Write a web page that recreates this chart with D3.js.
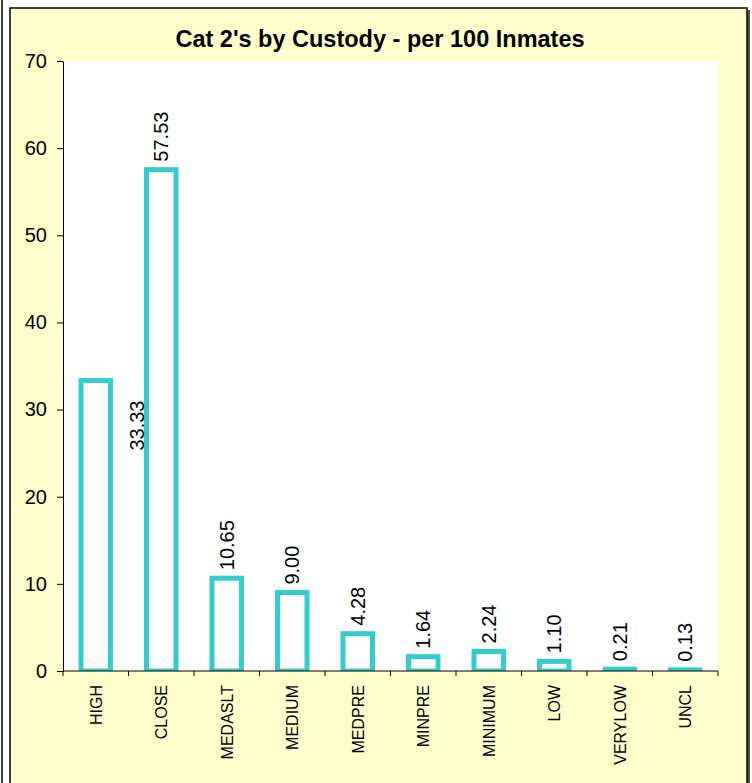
<!DOCTYPE html>
<html>
<head>
<meta charset="utf-8">
<script src="https://cdn.jsdelivr.net/npm/d3@7"></script>
<style>
  body { margin: 0; background: #fff; overflow: hidden; }
  text { font-family: "Liberation Sans", Arial, sans-serif; }
</style>
</head>
<body>
<div id="chart"></div>
<script>
// chart values
const custodyLevels = ["HIGH", "CLOSE", "MEDASLT", "MEDIUM", "MEDPRE", "MINPRE", "MINIMUM", "LOW", "VERYLOW", "UNCL"];
const ratePer100 = [33.33, 57.53, 10.65, 9.00, 4.28, 1.64, 2.24, 1.10, 0.21, 0.13];
const yTickValues = [0, 10, 20, 30, 40, 50, 60, 70];
const chartTitle = "Cat 2's by Custody - per 100 Inmates";

const W = 752, H = 783;
const plot = { left: 63, top: 61, right: 718, bottom: 671 };

const svg = d3.select("#chart").append("svg")
  .attr("width", W)
  .attr("height", H);

// outer frame line on the far left
svg.append("line")
  .attr("x1", 2).attr("x2", 2)
  .attr("y1", 0).attr("y2", H)
  .attr("stroke", "#000").attr("stroke-width", 1.5);

// chart area with a dark shadow on the right
svg.append("rect")
  .attr("x", 12).attr("y", 10)
  .attr("width", 738).attr("height", H)
  .attr("fill", "#555");
svg.append("rect")
  .attr("x", 10).attr("y", 8)
  .attr("width", 737).attr("height", H)
  .attr("fill", "#FFFFCC")
  .attr("stroke", "#000").attr("stroke-width", 1.5);

// plot area
svg.append("rect")
  .attr("x", plot.left).attr("y", plot.top)
  .attr("width", plot.right - plot.left)
  .attr("height", plot.bottom - plot.top)
  .attr("fill", "#fff");

svg.append("clipPath").attr("id", "plotClip")
  .append("rect")
  .attr("x", plot.left).attr("y", plot.top - 5)
  .attr("width", plot.right - plot.left)
  .attr("height", plot.bottom - plot.top + 5);

const x = d3.scaleBand()
  .domain(custodyLevels)
  .range([plot.left, plot.right])
  .paddingInner(0.55)
  .paddingOuter(0.275);

const y = d3.scaleLinear()
  .domain([0, 70])
  .range([plot.bottom, plot.top]);

// bars
svg.append("g")
  .attr("clip-path", "url(#plotClip)")
  .selectAll("rect")
  .data(ratePer100)
  .join("rect")
  .attr("x", (d, i) => x(custodyLevels[i]))
  .attr("y", d => y(d))
  .attr("width", x.bandwidth())
  .attr("height", d => y(0) - y(d))
  .attr("fill", "#fff")
  .attr("stroke", "#33CCCC")
  .attr("stroke-width", 5);

// value labels (rotated)
svg.append("g")
  .selectAll("text")
  .data(ratePer100)
  .join("text")
  .attr("transform", (d, i) => {
    let cx = x(custodyLevels[i]) + x.bandwidth() / 2;
    let cy = y(d) - 8;
    // Excel pushed the first label down beside its bar
    if (i === 0) { cx += 41; cy += 78; }
    return `translate(${cx},${cy}) rotate(-90)`;
  })
  .attr("dy", "0.36em")
  .attr("text-anchor", "start")
  .attr("font-size", 20)
  .attr("fill", "#000")
  .text(d => d.toFixed(2));

// y axis
const yAxis = svg.append("g")
  .attr("transform", `translate(${plot.left},0)`)
  .call(d3.axisLeft(y).tickValues(yTickValues).tickSize(6).tickPadding(10).tickSizeOuter(0));
yAxis.select(".domain").attr("stroke", "#000");
yAxis.selectAll(".tick line").attr("stroke", "#000");
yAxis.selectAll(".tick text")
  .attr("font-size", 20)
  .attr("font-family", "Liberation Sans, Arial, sans-serif")
  .attr("fill", "#000");

// x axis: ticks at category boundaries
const bounds = d3.range(custodyLevels.length + 1).map(i => plot.left + i * x.step());
const xAxis = svg.append("g");
xAxis.append("line")
  .attr("x1", plot.left).attr("x2", plot.right)
  .attr("y1", plot.bottom).attr("y2", plot.bottom)
  .attr("stroke", "#000");
xAxis.selectAll("line.tk")
  .data(bounds)
  .join("line")
  .attr("class", "tk")
  .attr("x1", d => d).attr("x2", d => d)
  .attr("y1", plot.bottom).attr("y2", plot.bottom + 5)
  .attr("stroke", "#000");
xAxis.selectAll("text")
  .data(custodyLevels)
  .join("text")
  .attr("transform", d => `translate(${x(d) + x.bandwidth() / 2},${plot.bottom + 14}) rotate(-90)`)
  .attr("dy", "0.36em")
  .attr("text-anchor", "end")
  .attr("font-size", 16)
  .attr("fill", "#000")
  .text(d => d);

// title
svg.append("text")
  .attr("x", 380)
  .attr("y", 47)
  .attr("text-anchor", "middle")
  .attr("font-size", 23.5)
  .attr("font-weight", "bold")
  .attr("fill", "#000")
  .text(chartTitle);
</script>
</body>
</html>
